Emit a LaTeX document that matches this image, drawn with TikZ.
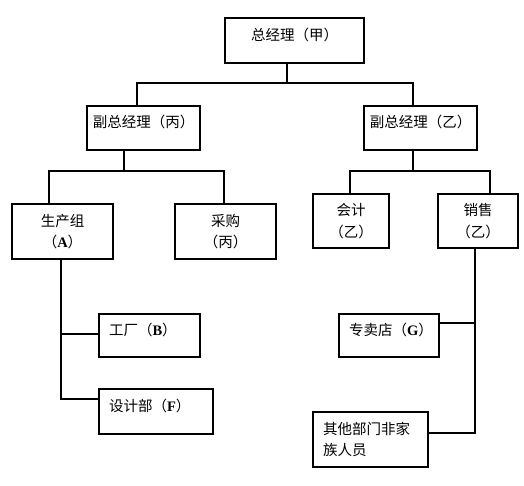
\documentclass[tikz,border=0pt]{standalone}
\usepackage{fontspec}
\setmainfont{Noto Sans CJK SC}
\newfontfamily\latinfont{Liberation Serif}
\newcommand{\lt}[1]{{\latinfont\bfseries #1}}
\newcommand{\orgfont}{\fontsize{14.5}{21.5}\selectfont}

\begin{document}
\begin{tikzpicture}[x=1pt,y=-1pt,
        orgbox/.style={draw, line width=2pt, inner sep=0pt, anchor=north west, font=\orgfont, align=center},
        liftup/.style={text height=11pt, text depth=11.5pt},
        leftbox/.style={orgbox, align=left, inner xsep=10pt, text width=#1},
        link/.style={line width=2pt}]
        \useasboundingbox (0,0) rectangle (524,486);

        % Boxes, placed by their top left corner
        \node[orgbox, liftup, minimum width=139pt, minimum height=45pt] (gm) at (224,17) {总经理（甲）};
        \node[orgbox, liftup, minimum width=113pt, minimum height=44pt] (vpl) at (86,105) {副总经理（丙）};
        \node[orgbox, liftup, minimum width=113pt, minimum height=44pt] (vpr) at (363,105) {副总经理（乙）};
        \node[orgbox, minimum width=101pt, minimum height=55pt] (prod) at (11,203) {生产组\\（\lt{A}）};
        \node[orgbox, minimum width=101pt, minimum height=55pt] (buy) at (174,203) {采购\\（丙）};
        \node[orgbox, minimum width=76pt, minimum height=54pt] (acct) at (312,193) {会计\\（乙）};
        \node[orgbox, minimum width=80pt, minimum height=54pt] (sale) at (437,193) {销售\\（乙）};
        \node[leftbox=81pt, liftup, minimum height=43pt] (fac) at (98,313) {工厂（\lt{B}）};
        \node[leftbox=94pt, liftup, minimum height=45pt] (des) at (98,388) {设计部（\lt{F}）};
        \node[leftbox=80pt, liftup, minimum height=43pt] (shop) at (338,313) {专卖店（\lt{G}）};
        \node[leftbox=95pt, minimum height=55pt] (other) at (312,411) {其他部门非家\\族人员};

        % Junction points of the connectors
        \coordinate (bus0) at (287,83);
        \coordinate (busl) at (137,83);
        \coordinate (busr) at (413,83);
        \coordinate (subl) at (124,171);
        \coordinate (subll) at (49,171);
        \coordinate (sublr) at (224,171);
        \coordinate (subr) at (413,171);
        \coordinate (subrl) at (350,171);
        \coordinate (subrr) at (490,171);
        \coordinate (spl1) at (61,334);
        \coordinate (spl2) at (61,399);
        \coordinate (spr1) at (475,323);
        \coordinate (spr2) at (475,433);

        % Top level
        \draw[link] (gm.south -| bus0) -- (bus0);
        \draw[link] (vpl.north -| busl) |- (busr) -- (vpr.north -| busr);
        % Second level
        \draw[link] (vpl.south -| subl) -- (subl);
        \draw[link] (prod.north -| subll) |- (sublr) -- (buy.north -| sublr);
        \draw[link] (vpr.south -| subr) -- (subr);
        \draw[link] (acct.north -| subrl) |- (subrr) -- (sale.north -| subrr);
        % Spines down to the lower boxes
        \draw[link] (prod.south -| spl2) -- (spl2) -- (spl2 -| des.west);
        \draw[link] (spl1) -- (spl1 -| fac.west);
        \draw[link] (sale.south -| spr2) -- (spr2) -- (spr2 -| other.east);
        \draw[link] (spr1) -- (spr1 -| shop.east);
\end{tikzpicture}
\end{document}
